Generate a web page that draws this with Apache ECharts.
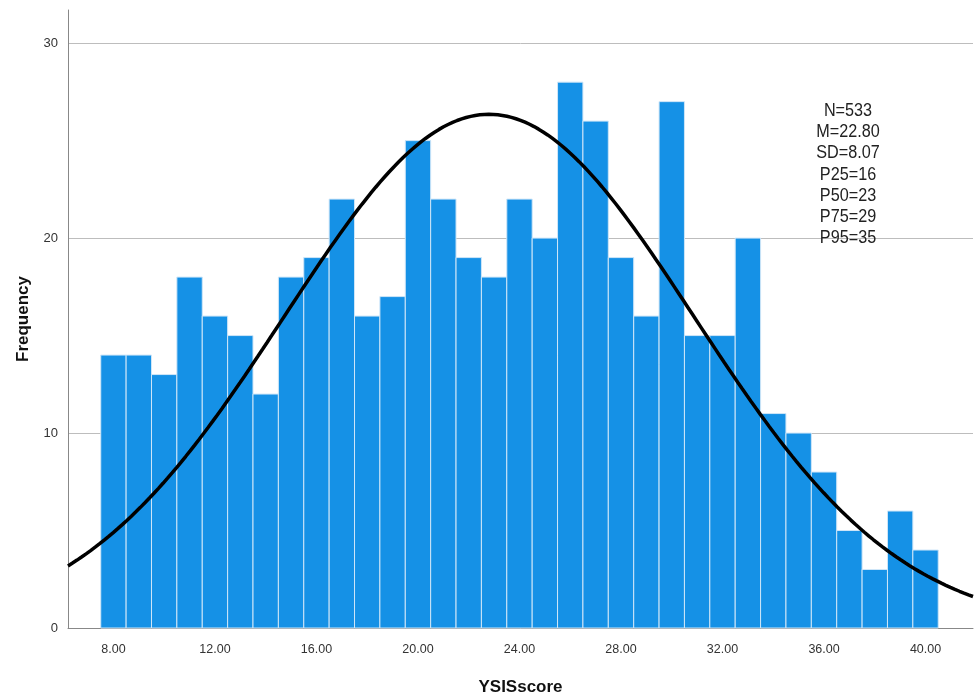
<!DOCTYPE html>
<html><head><meta charset="utf-8">
<script src="https://cdn.jsdelivr.net/npm/echarts@6/dist/echarts.min.js"></script>
<style>html,body{margin:0;padding:0;background:#fff}#c{width:975px;height:697px}</style>
</head><body><div id="c"></div>
<script>
const scores = [8,9,10,11,12,13,14,15,16,17,18,19,20,21,22,23,24,25,26,27,28,29,30,31,32,33,34,35,36,37,38,39,40];
const frequencies = [14,14,13,18,16,15,12,18,19,22,16,17,25,22,19,18,22,20,28,26,19,16,27,15,15,20,11,10,8,5,3,6,4];
const xTickValues = [8,12,16,20,24,28,32,36,40];
const statLines = ['N=533','M=22.80','SD=8.07','P25=16','P50=23','P75=29','P95=35'];
const statN = 533, statMean = 22.80, statSD = 8.07, binWidth = 1;
const xMin = 6.21, xMax = 41.87;

// normal curve fitted from the displayed N, mean and SD
const curve = [];
for (let i = 0; i <= 200; i++) {
  const x = xMin + (xMax - xMin) * i / 200;
  const z = (x - statMean) / statSD;
  curve.push([x, statN * binWidth / (statSD * Math.sqrt(2 * Math.PI)) * Math.exp(-0.5 * z * z)]);
}

const chart = echarts.init(document.getElementById('c'), null, {renderer: 'canvas'});
chart.setOption({
  animation: false,
  textStyle: {fontFamily: 'Liberation Sans, Arial, sans-serif'},
  grid: {left: 68, right: 2, top: 10, bottom: 69, containLabel: false, outerBoundsMode: 'none'},
  xAxis: {
    type: 'value', min: xMin, max: xMax,
    name: 'YSISscore', nameLocation: 'middle', nameGap: 51,
    nameTextStyle: {fontSize: 17, fontWeight: 'bold', color: '#111', fontFamily: 'Liberation Sans'},
    axisLine: {show: true, onZero: false, lineStyle: {color: '#888', width: 1}},
    axisTick: {show: false},
    splitLine: {show: false},
    axisLabel: {customValues: xTickValues, formatter: v => Number(v).toFixed(2), color: '#333', fontSize: 12.5, margin: 15}
  },
  yAxis: {
    type: 'value', min: 0, max: 31.7, interval: 10,
    name: 'Frequency', nameLocation: 'middle', nameGap: 36, nameRotate: 90,
    nameTextStyle: {fontSize: 17, fontWeight: 'bold', color: '#111', fontFamily: 'Liberation Sans'},
    axisLine: {show: true, lineStyle: {color: '#888', width: 1}},
    axisTick: {show: false},
    splitLine: {show: true, showMaxLine: false, lineStyle: {color: '#bdbdbd', width: 1}},
    axisLabel: {color: '#333', fontSize: 13, margin: 10, showMaxLabel: false}
  },
  series: [
    {
      type: 'custom',
      data: scores.map((s, i) => [s, frequencies[i]]),
      renderItem: function (params, api) {
        const x = api.value(0), y = api.value(1);
        const p0 = api.coord([x - binWidth / 2, 0]);
        const p1 = api.coord([x + binWidth / 2, y]);
        return {
          type: 'rect',
          shape: {x: p0[0], y: p1[1], width: p1[0] - p0[0], height: p0[1] - p1[1]},
          style: {fill: '#1591e6', stroke: '#cfe6f8', lineWidth: 1}
        };
      },
      z: 2
    },
    {
      type: 'line', data: curve, showSymbol: false, smooth: false,
      lineStyle: {color: '#000', width: 3.5}, clip: true, z: 3
    }
  ],
  graphic: [{
    type: 'text', x: 848, y: 100, scaleX: 0.9,
    style: {
      text: statLines.join('\n'), align: 'center',
      font: '18px "Liberation Sans", sans-serif',
      lineHeight: 21.3, fill: '#222', textAlign: 'center'
    },
    z: 10
  }]
});
</script></body></html>
